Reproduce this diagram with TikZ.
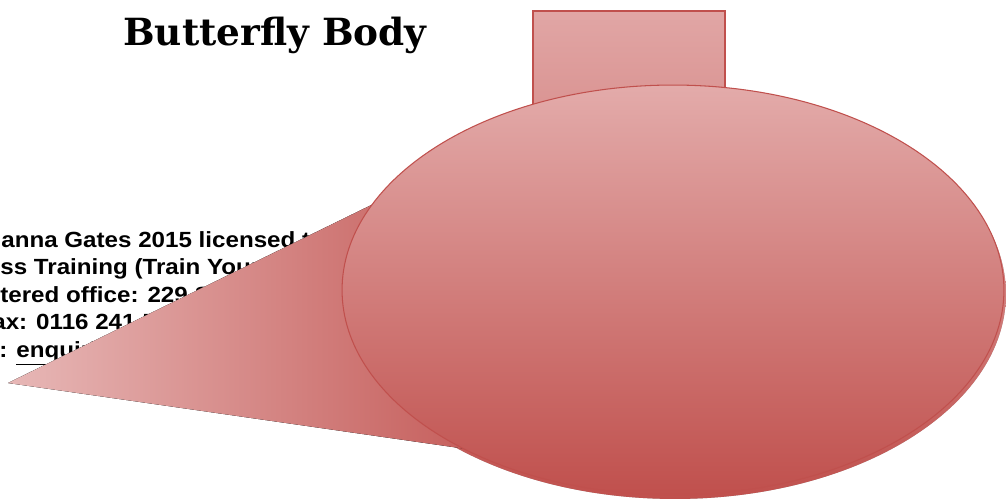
\documentclass[tikz,border=0pt]{standalone}
\usepackage{fontspec}
\setmainfont[FakeStretch=1.1]{Liberation Sans}
\newfontfamily\titlefont{DejaVu Serif}
\usetikzlibrary{shapes.geometric}
\definecolor{bodyred}{HTML}{C0504D}
\definecolor{bodypink}{HTML}{E3ABAA}
\definecolor{boxpink}{HTML}{E1A6A5}
\definecolor{shadowgrey}{HTML}{A8A8A8}
\tikzset{
    bodyoval/.style={ellipse, draw=bodyred, line width=0.6pt, inner sep=0pt,
        minimum width=13.24cm, minimum height=8.2cm,
        top color=bodypink, middle color=bodypink!50!bodyred, bottom color=bodyred},
    wingwedge/.style={left color=bodypink!85!white, right color=bodyred},
    headbox/.style={draw=bodyred, line width=0.8pt, top color=boxpink, bottom color=boxpink!60!bodyred},
    shadowfill/.style={fill=shadowgrey, draw=none},
    infoline/.style={anchor=base west, inner sep=0pt, font=\fontsize{12.5}{15}\selectfont\bfseries}
}

\begin{document}
\begin{tikzpicture}[x=0.02cm, y=-0.02cm]
\useasboundingbox (0,0) rectangle (1007,500);
\node[font=\titlefont\bfseries\fontsize{21.3}{24}\selectfont] (title) at (275,35) {Butterfly Body};
% text behind the wing
\foreach \dx/\ln/\txt in {1/247/anna Gates 2015 licensed t, 0/274/ss Training (Train Your,
    0/302/tered office: 229 S, -8/329/ax: 0116 241 5, -1/357/{: \underline{enquiri}}}
    \node[infoline] (info\ln) at (\dx,\ln) {\txt};
\coordinate (tip) at (8,383);
\coordinate (wingtop) at (500,142);
\coordinate (wingbot) at (550,461);
% shadow
\begin{scope}[shift={(2,4)}]
\fill[shadowfill] (tip) -- (wingtop) -- (wingbot) -- cycle;
\node[bodyoval, shadowfill] (bodyshadow) at (673,290) {};
\end{scope}
\draw[headbox] (533,11) rectangle (725,200);
\fill[wingwedge] (tip) -- (wingtop) -- (wingbot) -- cycle;
\node[bodyoval] (body) at (673,290) {};
\end{tikzpicture}
\end{document}
